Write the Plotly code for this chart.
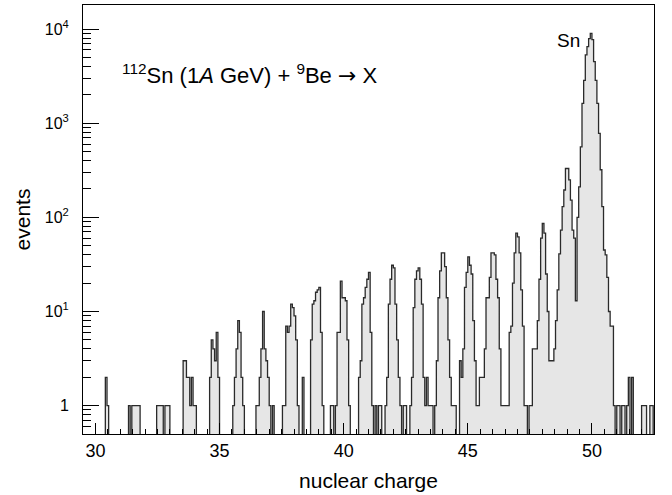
import numpy as np
import plotly.graph_objects as go

# Nuclear-charge histogram, bins of 1/15 charge unit.
# Each list holds 15 consecutive bins starting at Z - 6/15.
z30 = [0, 0, 0, 0, 0, 0, 0, 0, 0, 0, 0, 0, 2, 1, 0]
z31 = [0, 0, 0, 0, 0, 0, 0, 0, 0, 0, 0, 1, 0, 1, 1]
z32 = [1, 1, 1, 0, 0, 0, 0, 0, 0, 0, 0, 0, 0, 1, 1]
z33 = [1, 1, 0, 1, 1, 1, 0, 0, 0, 0, 0, 0, 0, 0, 3]
z34 = [3, 2, 2, 1, 2, 1, 1, 0, 0, 0, 0, 0, 0, 0, 0]
z35 = [2, 5, 4, 3, 6, 2, 0, 0, 0, 0, 0, 0, 0, 0, 1]
z36 = [2, 4, 8, 6, 2, 1, 0, 0, 0, 0, 0, 0, 0, 1, 1]
z37 = [2, 4, 10, 4, 3, 2, 1, 0, 1, 0, 0, 0, 0, 0, 1]
z38 = [1, 7, 6, 7, 12, 11, 9, 5, 1, 0, 0, 2, 0, 0, 0]
z39 = [0, 5, 12, 13, 16, 17, 18, 6, 1, 0, 0, 0, 0, 1, 1]
z40 = [0, 1, 6, 6, 21, 14, 14, 13, 5, 1, 0, 0, 0, 0, 0]
z41 = [2, 3, 12, 14, 18, 22, 26, 6, 1, 0, 1, 0, 1, 1, 0]
z42 = [0, 1, 2, 12, 22, 31, 29, 12, 5, 2, 1, 0, 1, 1, 0]
z43 = [0, 1, 2, 11, 22, 27, 29, 22, 12, 2, 1, 2, 1, 1, 1]
z44 = [0, 1, 3, 14, 27, 42, 42, 30, 14, 5, 2, 1, 1, 1, 0]
z45 = [0, 3, 2, 4, 18, 26, 38, 31, 25, 8, 3, 1, 1, 2, 2]
z46 = [2, 4, 14, 14, 23, 42, 42, 40, 22, 14, 4, 1, 1, 1, 1]
z47 = [1, 6, 7, 20, 42, 68, 62, 42, 17, 7, 1, 1, 0, 1, 1]
z48 = [4, 4, 4, 8, 22, 60, 86, 68, 25, 10, 3, 3, 3, 4, 8]
z49 = [17, 41, 73, 130, 195, 330, 330, 250, 152, 73, 60, 13, 100, 211, 560]
z50 = [1620, 2850, 5300, 6500, 7900, 9000, 7700, 4500, 2850, 1620, 780, 320, 130, 45, 40]
z51 = [23, 10, 7, 7, 1, 0, 1, 1, 0, 1, 1, 0, 1, 2, 0]
z52 = [2, 0, 0, 0, 0, 0, 1, 1, 1, 0, 0, 1, 1, 0, 0]

charges = list(range(30, 53))
groups = [z30, z31, z32, z33, z34, z35, z36, z37, z38, z39, z40, z41,
          z42, z43, z44, z45, z46, z47, z48, z49, z50, z51, z52]

x_ticks = [30, 35, 40, 45, 50]
y_ticks = [1, 10, 100, 1000, 10000]
y_ticktext = ["1", "10<sup>1</sup>", "10<sup>2</sup>", "10<sup>3</sup>", "10<sup>4</sup>"]

bins_per_unit = 15
w = 1.0 / bins_per_unit
lo_edges, counts = [], []
for Z, vals in zip(charges, groups):
    for k, v in enumerate(vals):
        lo_edges.append((bins_per_unit * Z - 6 + k) / bins_per_unit)
        counts.append(v)

floor = 0.1  # below visible range: empty bins drop out of view
xs = [lo_edges[0]]
ys = [floor]
for lo, v in zip(lo_edges, counts):
    yv = v if v > 0 else floor
    xs += [lo, lo + w]
    ys += [yv, yv]
xs.append(lo_edges[-1] + w)
ys.append(floor)

FONT = "Liberation Sans, Arial, Helvetica, sans-serif"

fig = go.Figure()
fig.add_trace(go.Scatter(
    x=xs, y=ys, mode="lines", fill="toself",
    fillcolor="#e6e6e6",
    line=dict(color="#2a2a2a", width=1.3),
    hoverinfo="skip", showlegend=False,
))

fig.add_annotation(
    x=31.0, y=np.log10(3300), xref="x", yref="y",
    text=("<sup>112</sup>Sn (1<i>A</i> GeV) + <sup>9</sup>Be "
          "<span style=\"font-family:DejaVu Sans\">→</span> X"),
    showarrow=False, xanchor="left", yanchor="middle",
    font=dict(family=FONT, size=22, color="black"),
)
fig.add_annotation(
    x=49.05, y=np.log10(7500), xref="x", yref="y",
    text="Sn", showarrow=False, xanchor="center", yanchor="middle",
    font=dict(family=FONT, size=19, color="black"),
)

fig.update_layout(
    width=672, height=495,
    margin=dict(l=83, r=18, t=5, b=61),
    paper_bgcolor="white", plot_bgcolor="white",
    font=dict(family=FONT, color="black"),
    xaxis=dict(
        range=[29.5, 52.5], showgrid=False, zeroline=False,
        showline=True, mirror=True, linecolor="black", linewidth=1,
        ticks="inside", ticklen=11, tickwidth=1, tickcolor="black",
        tickmode="array", tickvals=x_ticks,
        tickfont=dict(family=FONT, size=18),
        ticklabelstandoff=0,
        minor=dict(ticks="inside", ticklen=5, tickwidth=1, tickcolor="black",
                   dtick=0.5, tick0=0, showgrid=False),
        title=dict(text="nuclear charge", font=dict(family=FONT, size=21), standoff=13),
    ),
    yaxis=dict(
        type="log", range=[np.log10(0.5), 4.255], showgrid=False, zeroline=False,
        showline=True, mirror=True, linecolor="black", linewidth=1,
        ticks="inside", ticklen=16, tickwidth=1, tickcolor="black",
        tickmode="array", tickvals=y_ticks, ticktext=y_ticktext,
        tickfont=dict(family=FONT, size=16),
        ticklabelstandoff=10,
        minor=dict(ticks="inside", ticklen=8, tickwidth=1, tickcolor="black",
                   dtick="D1", showgrid=False),
        title=dict(text="events", font=dict(family=FONT, size=21), standoff=8),
    ),
)

fig.write_html("out.html", config={"displayModeBar": False},
               post_script="document.body.style.margin='0';")
